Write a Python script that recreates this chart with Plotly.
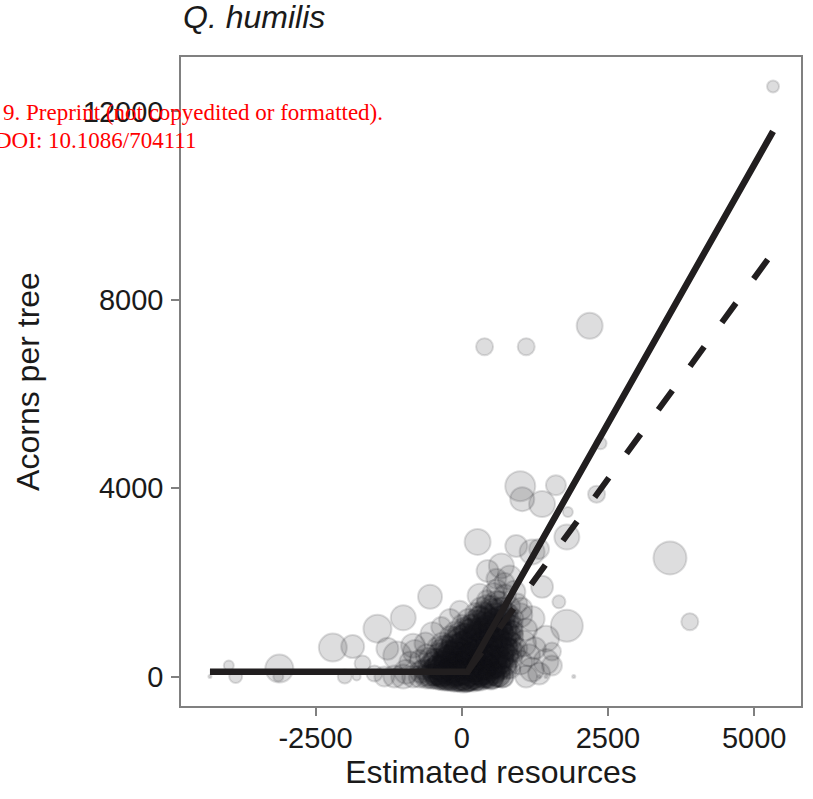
import plotly.graph_objects as go

# ---------------- data ----------------
x_ticks = [-2500, 0, 2500, 5000]
x_tick_labels = ["-2500", "0", "2500", "5000"]
y_ticks = [0, 4000, 8000, 12000]
y_tick_labels = ["0", "4000", "8000", "12000"]

# isolated / peripheral trees
edge_res = [5322, 2187, 390, 1102, 2373, 1000, 1610, 2305, 1373, 1814,
            1034, 271, 932, 1203, 1797, 3560, 3899, 1797, 1661, 1373,
            1441, 1203, 1017, 1542, 1322, 1915, 441, 678, 593, -542,
            -1000, -1441, -2204, -1865, -1695, -1102, -1271, -3983, -3865, -4305,
            -3119, -3136, -2000, -1797, -1492, -1322, -1153, -831, -831, -34,
            305, 729, 1441, 1542, 1322, -373, 1441, 1322]
edge_acorns = [12527, 7448, 7004, 7004, 4951, 4042, 4063, 3872, 3661, 3491,
               3766, 2857, 2772, 2645, 2962, 2518, 1164, 1079, 1587, 1904,
               804, 1227, 1439, 233, 63, 0, 2243, 2349, 2074, 1693,
               1248, 1016, 614, 635, 275, 444, 592, 233, 0, 0,
               169, 0, 0, 0, 63, 0, 0, 0, 656, 1397,
               1714, 1990, 317, 529, 2709, 0, 0, 0]
edge_size = [12, 26, 17, 17, 12, 30, 20, 17, 26, 10,
             24, 26, 22, 25, 25, 33, 17, 32, 13, 22,
             26, 25, 22, 20, 22, 3, 22, 25, 20, 24,
             25, 28, 28, 23, 16, 28, 22, 10, 13, 3,
             28, 10, 14, 8, 16, 20, 22, 22, 24, 20,
             24, 20, 25, 18, 20, 20, 3, 3]

# dense cloud of trees around the origin (first layer)
core_res = [-720, -610, -530, -470, -400, -350, -290, -240, -180, -130, -70, -20, 30, 80, 140, 190, 250, 310, 370, 440, 520, 610, 700,
            -660, -560, -480, -410, -330, -260, -200, -140, -60, 0, 60, 120, 200, 270, 340, 410, 480, 560, 650, 740, 830,
            -560, -470, -390, -300, -230, -150, -80, 10, 80, 150, 230, 300, 380, 460, 540, 620, 700, 790, 880,
            -420, -330, -240, -150, -60, 30, 110, 190, 270, 350, 440, 520, 600, 690, 780, 870, 950,
            -200, -100, -10, 80, 170, 260, 340, 430, 520, 610, 700, 790, 880,
            0, 110, 200, 290, 380, 460, 550, 640, 720, 810, 900,
            230, 330, 420, 510, 600, 690, 780,
            430, 540, 640, 740, 600,
            -350, -250, -150, -50, 50, 150, 250, 350, 450, 550, -100, 100, 300, 500, 700, 200, 400, 600, 0, -200,
            250, 450, 650, 500, 700, 300, 100, -300, 500, 650]
core_acorns = [0, 0, 0, 0, 0, 0, 0, 0, 0, 0, 0, 0, 0, 0, 0, 0, 0, 0, 0, 0, 0, 0, 0,
               150, 210, 130, 240, 170, 120, 230, 160, 210, 140, 250, 170, 230, 130, 200, 250, 160, 220, 140, 230, 170,
               400, 360, 450, 380, 470, 390, 440, 370, 480, 400, 460, 360, 430, 480, 380, 450, 400, 470, 380,
               620, 700, 600, 680, 620, 710, 600, 690, 630, 720, 610, 700, 640, 710, 620, 690, 600,
               860, 940, 830, 900, 980, 850, 930, 870, 960, 840, 920, 880, 960,
               1100, 1200, 1080, 1170, 1250, 1100, 1200, 1070, 1180, 1120, 1240,
               1350, 1450, 1320, 1480, 1380, 1460, 1330,
               1620, 1750, 1600, 1720, 1850,
               60, 300, 80, 320, 60, 300, 90, 330, 100, 310, 520, 540, 560, 520, 560, 800, 780, 800, 250, 520,
               1000, 950, 1000, 1150, 1300, 200, 0, 0, 0, 300]
core_size = [22, 20, 24, 18, 26, 22, 24, 28, 26, 30, 28, 30, 32, 30, 28, 30, 26, 28, 24, 22, 24, 20, 22,
             20, 22, 24, 20, 26, 24, 22, 28, 26, 30, 28, 26, 24, 28, 22, 26, 24, 22, 20, 22, 20,
             20, 22, 24, 22, 26, 24, 28, 26, 24, 28, 22, 26, 24, 22, 26, 20, 22, 20, 18,
             20, 22, 24, 22, 26, 24, 22, 26, 24, 22, 24, 26, 22, 24, 20, 22, 20,
             20, 22, 24, 22, 24, 26, 22, 24, 22, 24, 22, 20, 20,
             20, 22, 24, 22, 20, 24, 22, 24, 22, 20, 18,
             20, 22, 20, 22, 24, 20, 22,
             20, 22, 20, 22, 20,
             26, 24, 28, 26, 30, 28, 30, 26, 28, 24, 24, 26, 24, 26, 22, 24, 26, 24, 28, 22,
             22, 24, 22, 22, 20, 26, 30, 28, 26, 22]

# dense cloud (second layer)
core2_res = [-600, -540, -470, -420, -360, -300, -250, -190, -140, -90, -40, 10, 60, 110, 160, 210, 260, 320, 380, 440, 500, 560, 630, 690,
             -500, -430, -360, -290, -220, -160, -100, -40, 20, 80, 140, 200, 260, 320, 380, 440, 500, 560, 620, 690, 760,
             -350, -280, -210, -140, -70, 0, 70, 140, 210, 280, 350, 420, 490, 560, 630, 700, 770, 840, 900,
             -100, -30, 40, 110, 180, 250, 320, 390, 460, 530, 600, 670, 740, 810, 880,
             150, 230, 310, 390, 470, 550, 630, 710, 790, 870,
             350, 430, 510, 590, 670, 750, 830]
core2_acorns = [0, 80, 30, 120, 0, 60, 140, 20, 90, 0, 130, 50, 0, 110, 40, 150, 0, 80, 30, 120, 0, 90, 40, 0,
                280, 330, 250, 310, 350, 260, 320, 280, 340, 250, 300, 350, 270, 320, 260, 340, 290, 330, 260, 310, 280,
                560, 620, 520, 600, 540, 650, 560, 620, 530, 640, 580, 520, 610, 560, 640, 540, 600, 560, 520,
                820, 900, 860, 940, 820, 900, 870, 950, 830, 910, 860, 940, 820, 900, 850,
                1080, 1160, 1240, 1100, 1190, 1070, 1230, 1120, 1200, 1090,
                1380, 1500, 1420, 1560, 1450, 1350, 1480]
core2_size = [24, 26, 22, 28, 26, 24, 28, 30, 26, 30, 28, 32, 30, 28, 30, 26, 28, 26, 24, 26, 24, 22, 24, 22,
              22, 24, 26, 24, 28, 26, 28, 30, 28, 30, 28, 26, 28, 26, 28, 26, 24, 26, 24, 22, 22,
              22, 24, 24, 26, 26, 28, 26, 28, 26, 28, 26, 28, 26, 26, 24, 24, 22, 22, 20,
              22, 24, 24, 26, 26, 26, 28, 26, 26, 26, 24, 24, 22, 22, 20,
              22, 24, 24, 26, 26, 24, 24, 22, 22, 20,
              20, 22, 22, 24, 22, 22, 20]

# dense cloud (third layer, darkest core)
core3_res = [-480, -380, -280, -180, -80, 20, 120, 220, 320, 420, 520, 620,
             -420, -330, -240, -150, -60, 30, 120, 210, 300, 390, 480, 570, 660, 750,
             -300, -210, -120, -30, 60, 150, 240, 330, 420, 510, 600, 690, 780,
             -150, -60, 30, 120, 210, 300, 390, 480, 570, 660, 750, 840,
             50, 140, 230, 320, 410, 500, 590, 680, 770, 860,
             300, 390, 480, 570, 660, 750]
core3_acorns = [40, 100, 20, 70, 110, 30, 90, 60, 120, 20, 70, 30,
                200, 180, 230, 190, 220, 170, 240, 200, 180, 230, 190, 220, 200, 180,
                430, 410, 450, 420, 440, 400, 460, 420, 440, 410, 450, 420, 430,
                720, 760, 700, 750, 730, 770, 710, 750, 720, 760, 700, 740,
                1020, 980, 1040, 990, 1030, 1000, 1050, 990, 1020, 980,
                1280, 1330, 1270, 1320, 1290, 1310]
core3_size = [28, 26, 28, 30, 28, 30, 28, 30, 28, 26, 24, 24,
              24, 26, 26, 28, 28, 30, 28, 28, 26, 26, 24, 24, 22, 22,
              22, 24, 26, 26, 28, 28, 28, 26, 26, 24, 24, 22, 22,
              22, 24, 24, 26, 26, 26, 26, 24, 24, 22, 22, 20,
              22, 22, 24, 24, 24, 24, 22, 22, 20, 20,
              20, 22, 22, 22, 20, 20]

# fringe of the cloud
fringe_res = [-950, -880, -800, -720, -620, -500, -350, -200, 1000, 1050,
              1100, 1000, 950, 1150, 1200, 1250, -1000, 1100, 900, 820,
              -700, -600]
fringe_acorns = [100, 300, 520, 350, 700, 900, 1050, 1200, 300, 700,
                 1000, 1300, 1550, 450, 150, 600, 0, 0, 1800, 2100,
                 100, 450]
fringe_size = [24, 22, 24, 20, 22, 24, 20, 22, 24, 26,
               22, 24, 20, 22, 24, 22, 24, 22, 22, 24,
               22, 22]

# fitted relationships
fit_res = [-4305, 100, 5322]
fit_acorns = [100, 100, 11577]
alt_res = [100, 5322]
alt_acorns = [100, 9010]

# ---------------- figure ----------------
pt_col = "rgba(18,18,24,0.2)"
line_col = "#211e1f"
axis_grey = "#808080"
text_col = "#1a1a1a"

fig = go.Figure()
fig.add_trace(go.Scatter(
    x=edge_res + fringe_res + core_res + core2_res + core3_res,
    y=edge_acorns + fringe_acorns + core_acorns + core2_acorns + core3_acorns,
    mode="markers",
    marker=dict(size=edge_size + fringe_size + core_size + core2_size + core3_size,
                color=pt_col, line=dict(color=pt_col, width=2)),
    hoverinfo="skip"))
fig.add_trace(go.Scatter(x=fit_res, y=fit_acorns, mode="lines",
                         line=dict(color=line_col, width=6.5)))
fig.add_trace(go.Scatter(x=alt_res, y=alt_acorns, mode="lines",
                         line=dict(color=line_col, width=6, dash="24px,30px")))

fig.update_layout(
    width=813, height=799,
    margin=dict(l=181, r=10, t=57, b=93),
    plot_bgcolor="white", paper_bgcolor="white",
    showlegend=False,
    font=dict(family="Liberation Sans, Arial, sans-serif", color=text_col),
)
fig.update_xaxes(
    range=[-4800, 5800], tickvals=x_ticks, ticktext=x_tick_labels,
    showgrid=False, zeroline=False,
    showline=True, mirror=True, linecolor=axis_grey, linewidth=1.5,
    ticks="outside", ticklen=8, tickwidth=2, tickcolor=axis_grey,
    tickfont=dict(size=29, color=text_col), ticklabelstandoff=-3,
    title=dict(text="Estimated resources", font=dict(size=32, color=text_col), standoff=6),
)
fig.update_yaxes(
    range=[-626, 13155], tickvals=y_ticks, ticktext=y_tick_labels,
    showgrid=False, zeroline=False,
    showline=True, mirror=True, linecolor=axis_grey, linewidth=1.5,
    ticks="outside", ticklen=8, tickwidth=2, tickcolor=axis_grey,
    tickfont=dict(size=29, color=text_col), ticklabelstandoff=2,
    title=dict(text="Acorns per tree", font=dict(size=32, color=text_col), standoff=34),
)

fig.add_annotation(text="<i>Q. humilis</i>", xref="paper", yref="paper",
                   x=0, y=1 + 40 / 649, xanchor="left", yanchor="middle",
                   showarrow=False, font=dict(size=32, color=text_col))
fig.add_annotation(text="9. Preprint (not copyedited or formatted).", xref="paper", yref="paper",
                   x=-181 / 622, y=(706 - 112) / 649, xanchor="left", yanchor="middle",
                   showarrow=False, font=dict(family="Liberation Serif, serif", size=23, color="#ff0000"))
fig.add_annotation(text="DOI: 10.1086/704111", xref="paper", yref="paper",
                   x=-189 / 622, y=(706 - 140) / 649, xanchor="left", yanchor="middle",
                   showarrow=False, font=dict(family="Liberation Serif, serif", size=23, color="#ff0000"))

fig.write_html("out.html")
